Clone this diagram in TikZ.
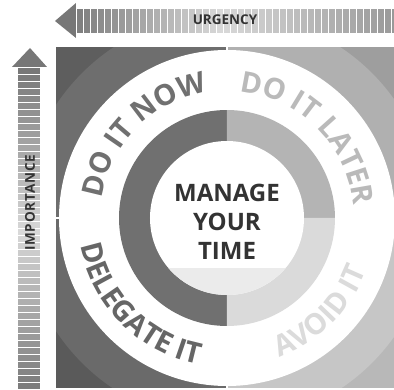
\documentclass[tikz,border=0pt]{standalone}
\usepackage{fontspec}
\setmainfont{Open Sans}
\usepackage{tikz}
\usetikzlibrary{positioning,decorations.text}
\definecolor{qTL}{HTML}{6E6E6E}
\definecolor{qTR}{HTML}{B0B0B0}
\definecolor{qBL}{HTML}{6A6A6A}
\definecolor{qBR}{HTML}{C6C6C6}
\definecolor{cTL}{HTML}{5E5E5E}
\definecolor{cTR}{HTML}{9E9E9E}
\definecolor{cBL}{HTML}{5A5A5A}
\definecolor{cBR}{HTML}{B8B8B8}
\definecolor{rDark}{HTML}{707070}
\definecolor{rMid}{HTML}{B4B4B4}
\definecolor{rLight}{HTML}{DADADA}
\definecolor{tDark}{HTML}{333333}
\definecolor{aHead}{HTML}{777777}
\newcommand\ringfont{\fontsize{29}{29}\selectfont\bfseries}

\begin{document}
\begin{tikzpicture}[x=1pt, y=1pt, font=\bfseries,
  ringtext/.style 2 args={decorate, decoration={text along path, text align=center, text color=#1, text={|\ringfont|#2}}},
  axislabel/.style={text=tDark, font=\fontsize{13.5}{14}\selectfont\bfseries, inner sep=0pt}]
\useasboundingbox (-227,-172) rectangle (167,218);
\clip (-227,-172) rectangle (167,218);
% quadrants of the square, darker corners
\fill[cTL] (-171,0) rectangle (0,171);
\fill[cTR] (0,0) rectangle (167,171);
\fill[cBL] (-171,-170) rectangle (0,0);
\fill[cBR] (0,-170) rectangle (167,0);
\begin{scope}
\clip (0,0) circle (205);
\fill[qTL] (-171,0) rectangle (0,171);
\fill[qTR] (0,0) rectangle (167,171);
\fill[qBL] (-171,-170) rectangle (0,0);
\fill[qBR] (0,-170) rectangle (167,0);
\end{scope}
\fill[white] (0,0) circle (168);
\fill[rDark] (0,0) -- (90:108) arc[start angle=90, end angle=270, radius=108] -- cycle;
\fill[rMid] (0,0) -- (0:108) arc[start angle=0, end angle=90, radius=108] -- cycle;
\fill[rLight] (0,0) -- (270:108) arc[start angle=270, end angle=360, radius=108] -- cycle;
\fill[white] (0,0) circle (77);
\begin{scope}
\clip (0,0) circle (77);
\fill[black!8] (-80,-80) rectangle (80,-50);
\end{scope}
\draw[white, line width=2] (0,171) -- (0,108) (0,-108) -- (0,-170) (-171,0) -- (-108,0) (108,0) -- (167,0);
% words round the ring
\path[ringtext={rDark}{DO IT NOW}] (180:127) arc[start angle=180, end angle=90, radius=127];
\path[ringtext={black!27}{DO IT LATER}] (90:127) arc[start angle=90, end angle=0, radius=127];
\path[ringtext={black!60}{DELEGATE IT}] (180:149) arc[start angle=180, end angle=270, radius=149];
\path[ringtext={black!14}{AVOID IT}] (270:149) arc[start angle=270, end angle=360, radius=149];
\node[text=tDark, align=center, font=\fontsize{24}{29}\selectfont\bfseries] (mgr) at (0,-4) {MANAGE\\YOUR\\TIME};
% urgency arrow
\foreach \i in {0,...,45} {
  \pgfmathsetmacro\t{\i/45}
  \pgfmathsetmacro\d{ifthenelse(\t<0.45, 15+35*(0.45-\t)/0.45, 15+25*(\t-0.45)/0.55)}
  \fill[black!\d] (-150+7*\i,185) rectangle (-144+7*\i,209);
}
\fill[aHead] (-172,197) -- (-151,215) -- (-151,180) -- cycle;
\node[axislabel] (urg) at (-2,198) {URGENCY};
% importance arrow
\foreach \i in {0,...,46} {
  \pgfmathsetmacro\t{\i/46}
  \pgfmathsetmacro\d{15+38*abs(\t-0.5)/0.5}
  \fill[black!\d] (-209,150-7*\i) rectangle (-187,144-7*\i);
}
\fill[aHead] (-197,170) -- (-215,151) -- (-180,151) -- cycle;
\node[axislabel, rotate=90] (imp) at (-197,15) {\addfontfeature{LetterSpace=6}IMPORTANCE};
\end{tikzpicture}
\end{document}
